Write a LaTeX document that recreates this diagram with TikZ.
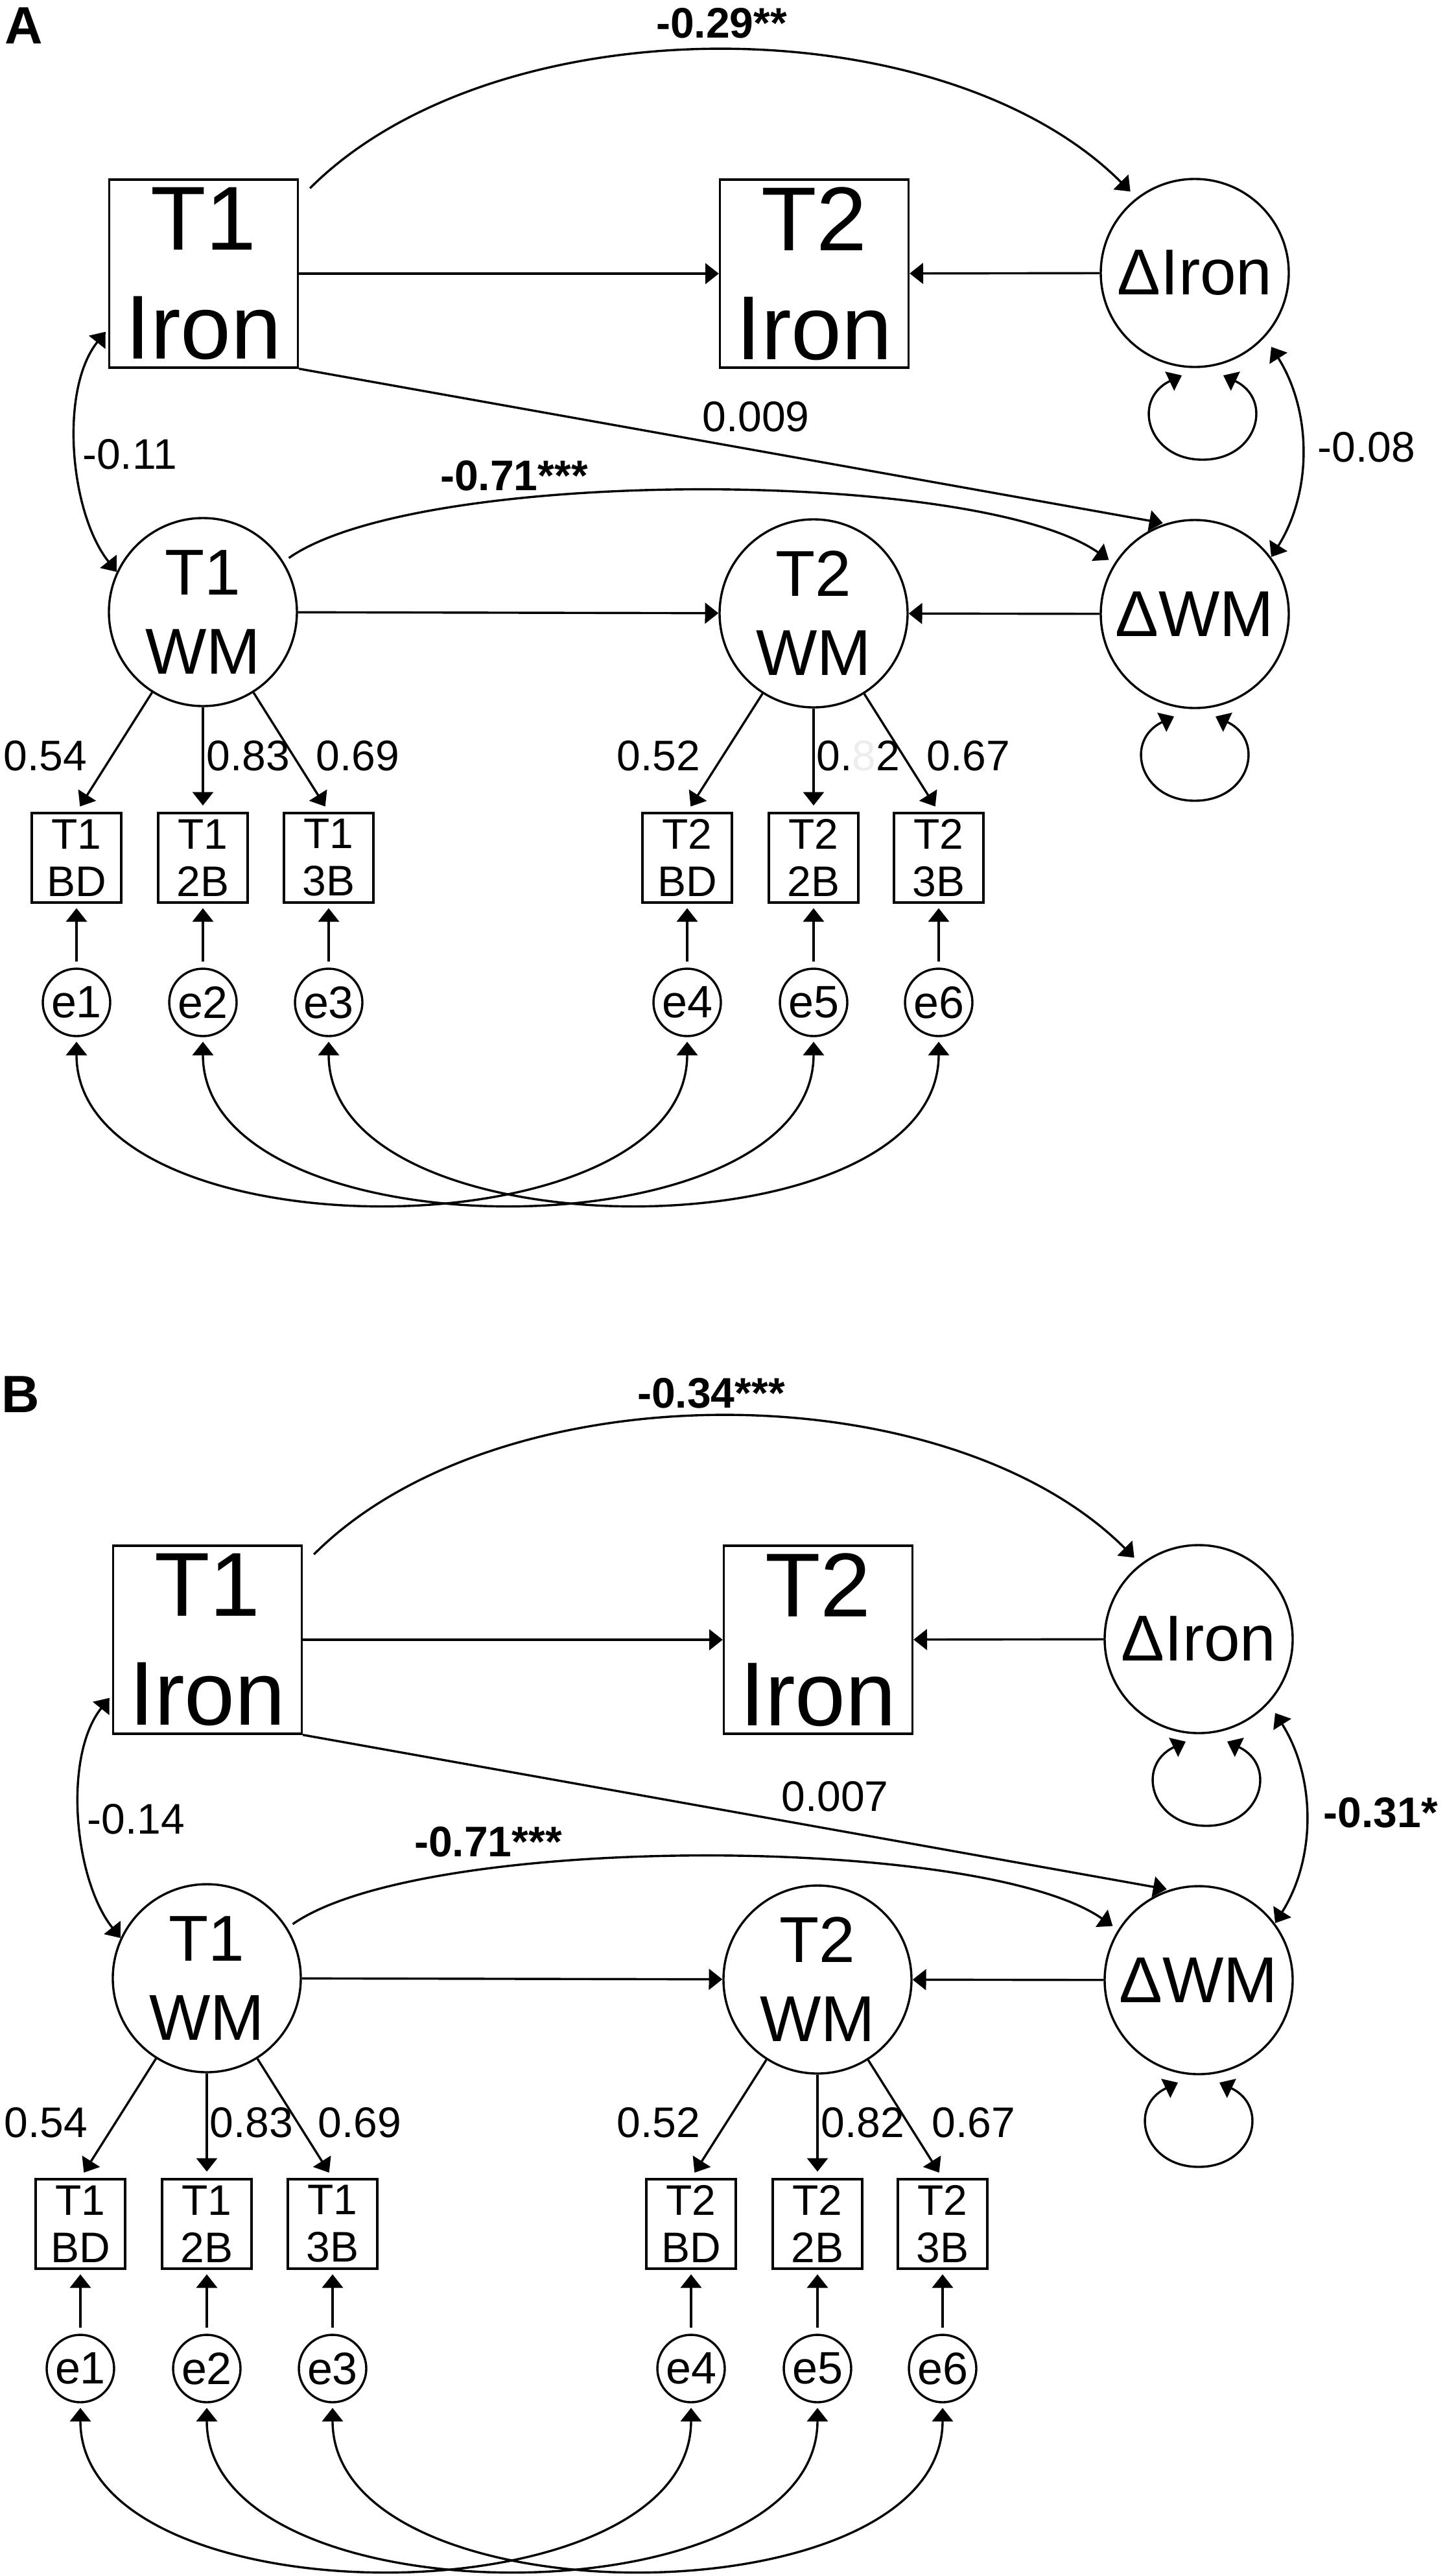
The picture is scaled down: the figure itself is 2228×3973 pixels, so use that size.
\documentclass[tikz,border=0pt]{standalone}
\usepackage{fontspec}
\setmainfont{Liberation Sans}
\usetikzlibrary{arrows.meta,calc}
\tikzset{
  ln/.style={line width=0.85pt},
  arr/.style={ln,-{Triangle[length=5.2pt,width=8pt]}},
  darr/.style={ln,{Triangle[length=5.2pt,width=8pt]}-{Triangle[length=5.2pt,width=8pt]}},
  bigbox/.style={draw,ln,rectangle,inner sep=0pt,minimum width=72.75pt,minimum height=72.5pt,align=center,font=\fontsize{35}{42}\selectfont},
  lat/.style={draw,ln,circle,inner sep=0pt,minimum size=72.5pt,align=center,font=\fontsize{25}{30.5}\selectfont},
  ind/.style={draw,ln,rectangle,inner sep=0pt,minimum size=34.5pt,align=center,font=\fontsize{16.5}{18.25}\selectfont},
  err/.style={draw,ln,circle,inner sep=0pt,minimum size=26pt,font=\fontsize{17.5}{20}\selectfont},
  lab/.style={inner sep=0pt,anchor=base,font=\fontsize{16.5}{19.8}\selectfont},
  blab/.style={inner sep=0pt,anchor=base,font=\fontsize{16.5}{19.8}\selectfont\bfseries},
  panel/.style={inner sep=0pt,anchor=base west,font=\fontsize{20.25}{24}\selectfont\bfseries},
}
\newcommand{\semloop}[2]{%
  \draw[darr] ([shift={(#2-32,158)}]#1.center) .. controls ([shift={(#2-110,195)}]#1.center) and ([shift={(#2-85,288)}]#1.center) .. ([shift={(#2,288)}]#1.center) .. controls ([shift={(#2+85,288)}]#1.center) and ([shift={(#2+110,195)}]#1.center) .. ([shift={(#2+32,158)}]#1.center);}
\newcommand{\sempanel}[1]{%
  \node[bigbox] (#1t1i) at (314,422) {T1\\Iron};
  \node[bigbox] (#1t2i) at (1256,422) {T2\\Iron};
  \node[lat] (#1di) at (1843,421) {ΔIron};
  \node[lat] (#1t1w) at (313,944) {T1\\WM};
  \node[lat] (#1t2w) at (1255,946) {T2\\WM};
  \node[lat] (#1dw) at (1843,947) {ΔWM};
  \foreach \n/\xx/\ta/\tb in {1/118/T1/BD,2/313/T1/2B,3/507/T1/3B,4/1060/T2/BD,5/1255/T2/2B,6/1448/T2/3B}{
    \node[ind] (#1i\n) at (\xx,1323) {\ta\\\tb};
    \node[err] (#1e\n) at (\xx,1546) {e\n};
    \draw[arr,shorten <=2.25pt,shorten >=1.75pt] (#1e\n) -- (#1i\n);
  }
  \foreach \n in {1,2,3}{\draw[arr,shorten >=2.5pt] (#1t1w) -- (#1i\n.north);}
  \foreach \n in {4,5,6}{\draw[arr,shorten >=2.5pt] (#1t2w) -- (#1i\n.north);}
  \draw[arr] (#1t1i) -- (#1t2i);
  \draw[arr] (#1di) -- (#1t2i);
  \draw[arr] (#1t1w) -- (#1t2w);
  \draw[arr] (#1dw) -- (#1t2w);
  \draw[arr] ([shift={(17,15)}]#1t1i.north east) .. controls ([shift={(305,-273)}]#1t1i.north east) and ([shift={(-297,-298)}]#1di.128) .. ([shift={(-9,-10)}]#1di.128);
  \draw[arr,shorten <=2.5pt,shorten >=2.5pt] (#1t1w.32) .. controls ([shift={(210,-147)}]#1t1w.32) and ([shift={(-210,-147)}]#1dw.148) .. (#1dw.148);
  \draw[arr,shorten >=1pt] (#1t1i.south east) -- (#1dw.108);
  \draw[darr] ([shift={(-4,-57)}]#1t1i.south west) .. controls ([shift={(-76,33)}]#1t1i.south west) and ([shift={(-72,-90)}]#1t1w.155) .. (#1t1w.155);
  \draw[darr] ([shift={(118,114)}]#1di.center) .. controls ([shift={(181,214)}]#1di.center) and ([shift={(181,-188)}]#1dw.center) .. ([shift={(118,-88)}]#1dw.center);
  \semloop{#1dw}{0}
  \semloop{#1di}{12}
  \foreach \ea/\eb in {1/4,2/5,3/6}{
    \draw[darr,shorten <=1.75pt,shorten >=1.75pt] (#1e\ea.south) .. controls ($(#1e\ea.south)+(0,339)$) and ($(#1e\eb.south)+(0,339)$) .. (#1e\eb.south);
  }
}
\begin{document}
\begin{tikzpicture}[x=0.25pt,y=-0.25pt]
\useasboundingbox (0,0) rectangle (2228,3973);
% Panel A
\sempanel{a}
\node[panel] (pa) at (7,67) {A};
\node[blab] (la1) at (1113,58) {-0.29**};
\node[lab] (la2) at (200,723) {-0.11};
\node[lab] (la3) at (1166,665) {0.009};
\node[blab] (la4) at (793,756) {-0.71***};
\node[lab] (la5) at (2108,712) {-0.08};
\node[lab] (la6) at (70,1188) {0.54};
\node[lab] (la7) at (383,1188) {0.83};
\node[lab] (la8) at (552,1188) {0.69};
\node[lab] (la9) at (1016,1188) {0.52};
\node[lab] (la10) at (1324,1188) {0.{\color{black!7}8}2};
\node[lab] (la11) at (1494,1188) {0.67};
% Panel B
\begin{scope}[shift={(6,2107)}]
\sempanel{b}
\end{scope}
\node[panel] (pb) at (2,2178) {B};
\node[blab] (lb1) at (1097,2171) {-0.34***};
\node[lab] (lb2) at (210,2828) {-0.14};
\node[lab] (lb3) at (1288,2793) {0.007};
\node[blab] (lb4) at (753,2863) {-0.71***};
\node[blab] (lb5) at (2130,2818) {-0.31*};
\node[lab] (lb6) at (71,3296) {0.54};
\node[lab] (lb7) at (388,3296) {0.83};
\node[lab] (lb8) at (555,3296) {0.69};
\node[lab] (lb9) at (1016,3296) {0.52};
\node[lab] (lb10) at (1331,3296) {0.82};
\node[lab] (lb11) at (1502,3296) {0.67};
\end{tikzpicture}
\end{document}
